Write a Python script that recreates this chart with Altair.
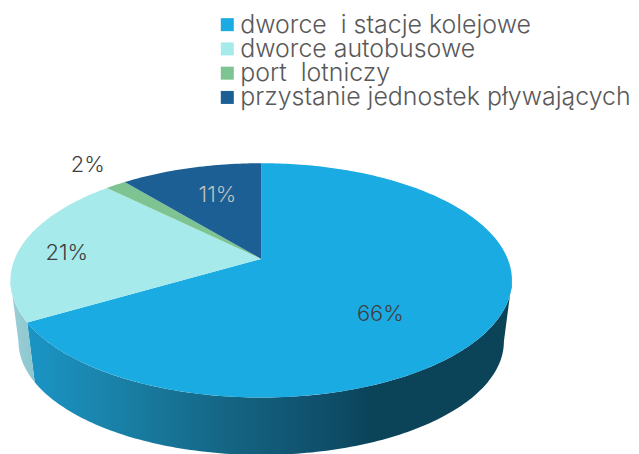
import math
import altair as alt
import pandas as pd

# shares, clockwise from 12 o'clock
names = ["dworce\u00a0 i stacje kolejowe", "dworce autobusowe", "port\u00a0 lotniczy", "przystanie jednostek pływających"]
shares = [66.5, 21.0, 1.6, 10.9]
labels = ["66%", "21%", "2%", "11%"]
colors = ["#1AABE2", "#A6EAEC", "#7EC492", "#1B5F94"]
label_colors = ["#404040", "#404040", "#404040", "#BFBFBF"]
label_shift = [(-41, 13), (-26, 4), (-68, -40), (8, 3)]

# perspective view of the disc
K, A, B = 0.183, 113.6, 247.3
SCALE_LOW, DROP = 0.968, 62
FONT = "Inter"


def project(r, deg, low=False):
    t = math.radians(deg)
    u, v = r * math.sin(t), -r * math.cos(t)
    d = 1 - K * v
    x, y = B * u / d, A * v / d
    if low:
        return x * SCALE_LOW, y * SCALE_LOW + DROP
    return x, y


def arc(a0, a1, low=False):
    n = max(2, int(abs(a1 - a0)) + 1)
    return [project(1, a0 + (a1 - a0) * i / (n - 1), low) for i in range(n)]


edges = [0.0]
for s in shares:
    edges.append(edges[-1] + s / sum(shares) * 360)

rows = []
for name, a0, a1 in zip(names, edges[:-1], edges[1:]):
    for i, (x, y) in enumerate([(0, 0)] + arc(a0, a1)):
        rows.append({"name": name, "x": x, "y": y, "i": i})
tops = pd.DataFrame(rows)


def wall(a0, a1):
    pts = arc(a0, a1) + arc(a1, a0, low=True)
    return pd.DataFrame([{"x": x, "y": y, "i": i} for i, (x, y) in enumerate(pts)])


turn_right = math.degrees(math.pi - math.asin(math.sqrt(1 - K * K)))
turn_left = 360 - turn_right

xs = alt.Scale(domain=[-254, 369], nice=False, zero=False)
ys = alt.Scale(domain=[195, -251], nice=False, zero=False)
X = alt.X("x:Q", scale=xs, axis=None)
Y = alt.Y("y:Q", scale=ys, axis=None)
COLOR = alt.Color("name:N", scale=alt.Scale(domain=names, range=colors), legend=None)


def grad(stops):
    return alt.LinearGradient(
        gradient="linear", x1=0, x2=1, y1=0, y2=0,
        stops=[alt.GradientStop(offset=o, color=c) for o, c in stops],
    )


main_wall = alt.Chart(wall(turn_right, edges[1])).mark_line(
    filled=True,
    strokeWidth=0,
    color=grad([(0, "#1A95C6"), (0.15, "#1A85AD"), (0.42, "#146482"), (0.61, "#0F4F6B"), (0.71, "#0B4359"), (1, "#0B4359")]),
).encode(x=X, y=Y, order="i:Q")

left_wall = alt.Chart(wall(edges[1], turn_left)).mark_line(
    filled=True,
    strokeWidth=0,
    color=grad([(0, "#9CCFD6"), (1, "#8CC6CF")]),
).encode(x=X, y=Y, order="i:Q")

top = alt.Chart(tops).mark_line(filled=True, strokeWidth=0).encode(
    x=X, y=Y, order="i:Q", detail="name:N", color=COLOR
)

layers = [main_wall, left_wall, top]
for i, lab in enumerate(labels):
    mid = (edges[i] + edges[i + 1]) / 2
    x, y = project(0.7, mid)
    layers.append(
        alt.Chart(pd.DataFrame([{"x": x, "y": y, "t": lab}]))
        .mark_text(font=FONT, fontSize=22, fontWeight=300, color=label_colors[i], dx=label_shift[i][0], dy=label_shift[i][1])
        .encode(x=X, y=Y, text="t:N")
    )

# key: one row per category, spaced by its own scale
key = pd.DataFrame({"name": names, "row": list(range(len(names)))})
ROW = alt.Y("row:Q", scale=alt.Scale(domain=[0, 3], range=[16, 89], nice=False, zero=False), axis=None)
layers.append(
    alt.Chart(key).mark_square(size=170, opacity=1, strokeWidth=0).encode(x=alt.value(220), y=ROW, color=COLOR)
)
layers.append(
    alt.Chart(key)
    .mark_text(font=FONT, fontSize=25, fontWeight=300, color="#595959", align="left")
    .encode(x=alt.value(233), y=ROW, text="name:N")
)

chart = (
    alt.layer(*layers)
    .resolve_scale(y="independent")
    .properties(width=623, height=446, padding=0, background="white")
    .configure_view(strokeWidth=0)
)
chart.save("out.html", embed_options={"renderer": "svg", "actions": False})
